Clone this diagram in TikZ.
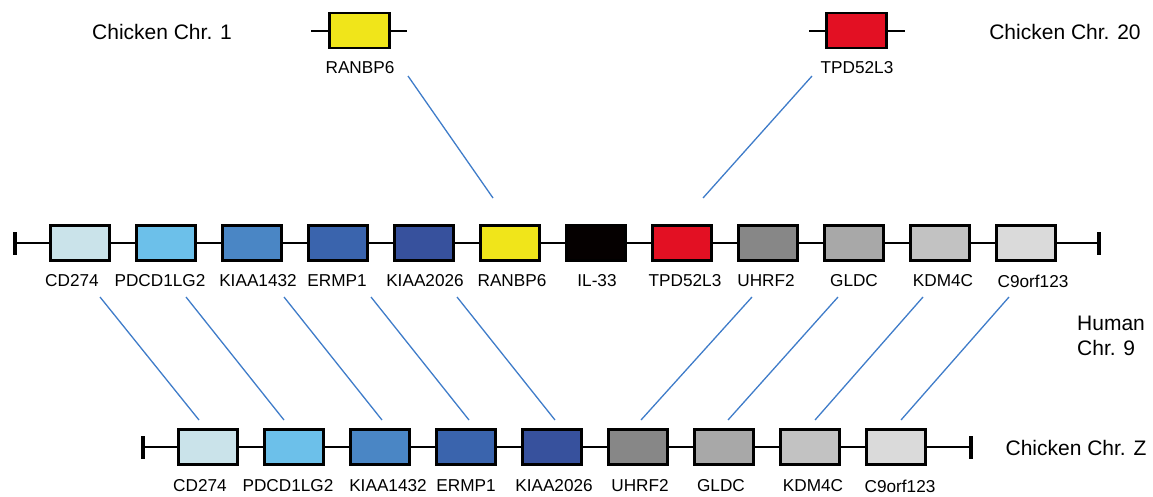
\documentclass[tikz,border=0pt]{standalone}
\usepackage{fontspec}
\setmainfont{Liberation Sans}
\definecolor{cCD}{HTML}{CAE3EA}
\definecolor{cPD}{HTML}{6CC0EA}
\definecolor{cKI}{HTML}{4A86C5}
\definecolor{cER}{HTML}{3A64AD}
\definecolor{cKA}{HTML}{37519D}
\definecolor{cRA}{HTML}{F0E51A}
\definecolor{cIL}{HTML}{050000}
\definecolor{cTP}{HTML}{E31023}
\definecolor{cUH}{HTML}{878787}
\definecolor{cGL}{HTML}{A8A8A8}
\definecolor{cKD}{HTML}{C2C2C2}
\definecolor{cC9}{HTML}{DADADA}
\definecolor{linkblue}{HTML}{3F7CC9}
\begin{document}
\begin{tikzpicture}[x=1pt,y=-1pt,
  gene/.style={draw=black, line width=2.6pt, minimum width=59.5pt, minimum height=35pt, inner sep=0pt},
  glabel/.style={font=\fontsize{17.2}{20}\selectfont, inner sep=0pt},
  chrlabel/.style={font=\fontsize{21}{25}\selectfont, inner sep=0pt},
  chrline/.style={line width=1.6pt},
  endbar/.style={line width=4pt},
  link/.style={draw=linkblue, line width=1.3pt}]
\useasboundingbox (0,0) rectangle (1153,496);

% ---------- top: chicken chr 1 and 20 ----------
\node[chrlabel] (chr1) at (162,32) {Chicken Chr. 1};
\node[chrlabel] (chr20) at (1065,32) {Chicken Chr. 20};
\coordinate (t1L) at (311,31);
\coordinate (t1R) at (407,31);
\draw[chrline] (t1L) -- (t1R);
\node[gene, fill=cRA, minimum width=60.5pt] (tRA) at (359.5,30.5) {};
\node[glabel] (tRAl) at (360,68) {RANBP6};
\coordinate (t2L) at (809,31);
\coordinate (t2R) at (905,31);
\draw[chrline] (t2L) -- (t2R);
\node[gene, fill=cTP, minimum width=60.5pt] (tTP) at (856.5,30.5) {};
\node[glabel] (tTPl) at (857,68) {TPD52L3};

% ---------- middle: human chr 9 ----------
\coordinate (mL) at (15,243);
\coordinate (mR) at (1099,243);
\draw[chrline] (mL) -- (mR);
\draw[endbar] (15,232) -- (15,255);
\draw[endbar] (1099,232) -- (1099,255);
\foreach \i/\name/\col/\lx in {0/CD274/cCD/72,1/PDCD1LG2/cPD/160,2/KIAA1432/cKI/258,3/ERMP1/cER/337,4/KIAA2026/cKA/425,5/RANBP6/cRA/512,6/IL-33/cIL/597,7/TPD52L3/cTP/685,8/UHRF2/cUH/766,9/GLDC/cGL/854,10/KDM4C/cKD/943,11/C9orf123/cC9/1033}{
  \node[gene, fill=\col] (m\i) at ({80+86*\i},243) {};
  \node[glabel] (ml\i) at (\lx,281) {\name};
}
\node[chrlabel, align=left, anchor=west] (hum) at (1077,335.5) {Human\\Chr. 9};

% ---------- bottom: chicken chr Z ----------
\coordinate (bL) at (143,447);
\coordinate (bR) at (971,447);
\draw[chrline] (bL) -- (bR);
\draw[endbar] (143,436) -- (143,459);
\draw[endbar] (971,436) -- (971,459);
\foreach \i/\name/\col/\lx in {0/CD274/cCD/200,1/PDCD1LG2/cPD/288,2/KIAA1432/cKI/388,3/ERMP1/cER/466,4/KIAA2026/cKA/554,5/UHRF2/cUH/640,6/GLDC/cGL/721,7/KDM4C/cKD/813,8/C9orf123/cC9/900}{
  \node[gene, fill=\col] (b\i) at ({208+86*\i},447) {};
  \node[glabel] (bl\i) at (\lx,486) {\name};
}
\node[chrlabel] (chrZ) at (1076,448) {Chicken Chr. Z};

% ---------- connectors ----------
\coordinate (uA1) at (408,76);  \coordinate (uB1) at (493,198);
\coordinate (uA2) at (812,76);  \coordinate (uB2) at (703,198);
\draw[link] (uA1) -- (uB1);
\draw[link] (uA2) -- (uB2);
\foreach \k/\xa/\xb in {1/100/199,2/186/284,3/284/382,4/371/469,5/457/555,6/752/641,7/838/728,8/923/815,9/1009/901}{
  \coordinate (lA\k) at (\xa,297);
  \coordinate (lB\k) at (\xb,420);
  \draw[link] (lA\k) -- (lB\k);
}
\end{tikzpicture}
\end{document}
